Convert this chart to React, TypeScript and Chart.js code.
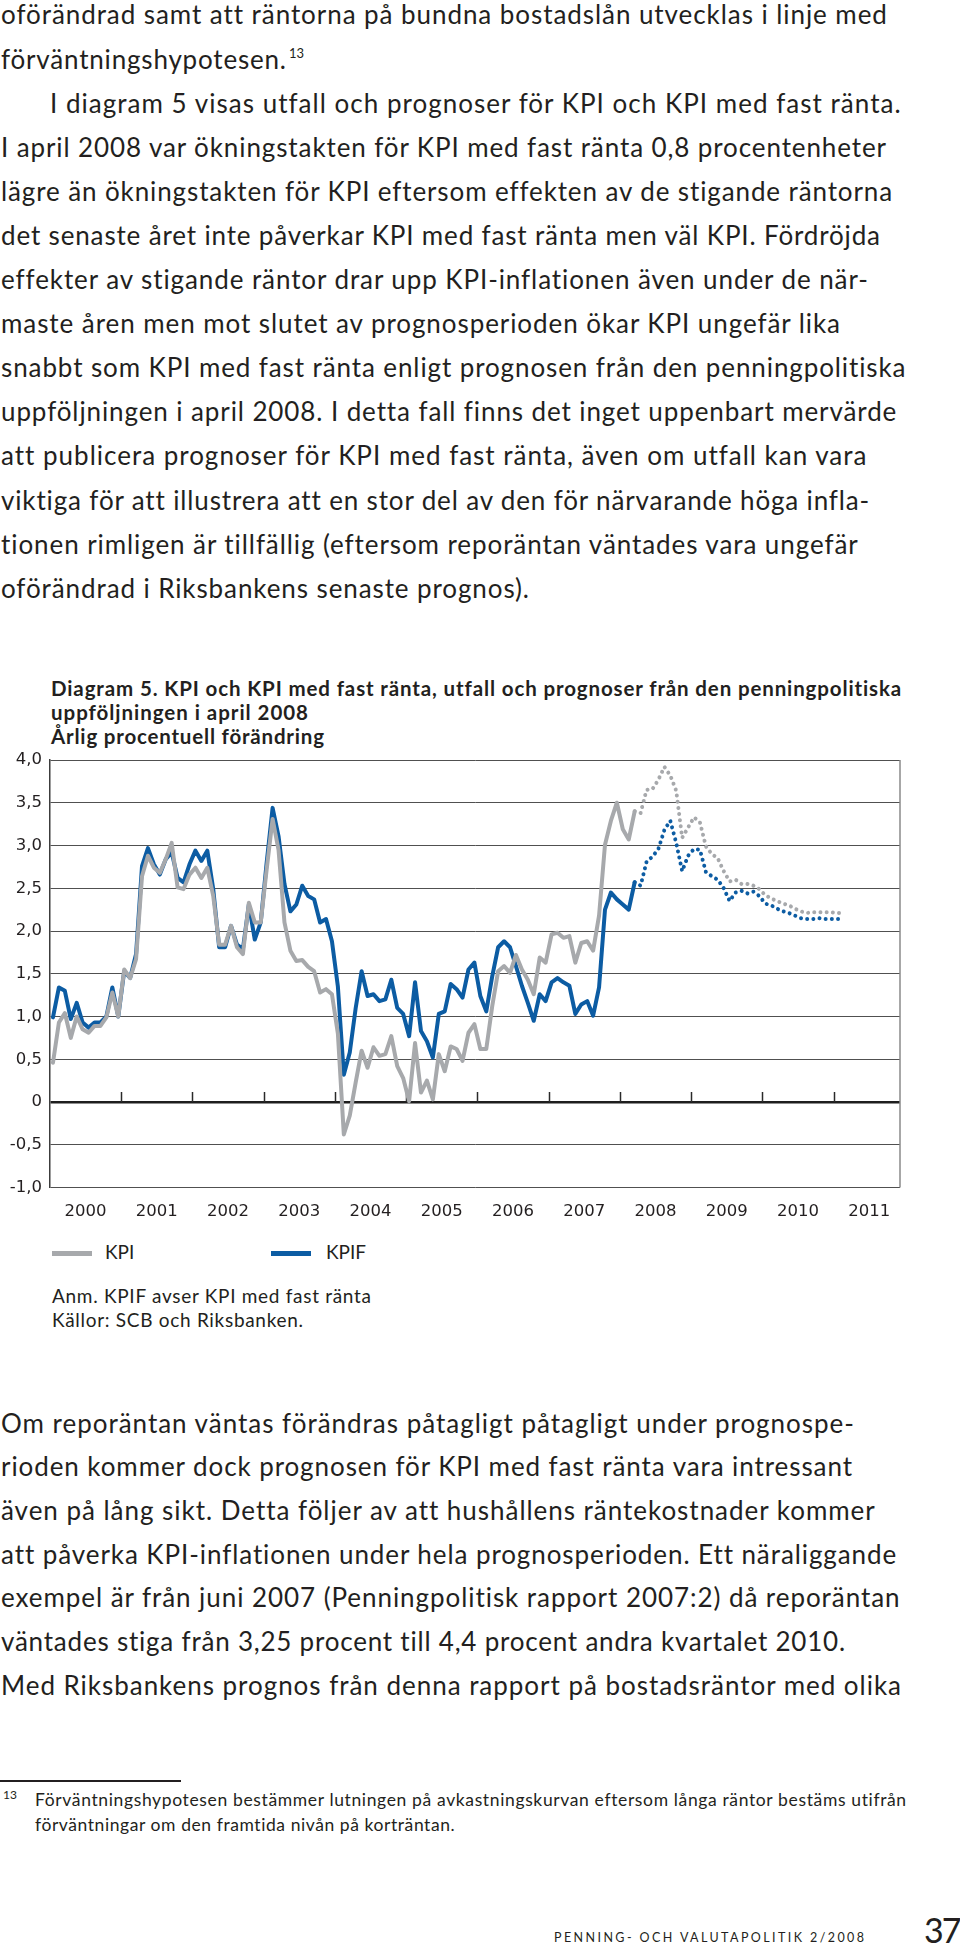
import React, { useEffect, useLayoutEffect, useRef } from 'react';
import { Chart, registerables } from 'chart.js';

Chart.register(...registerables);

// ---------- chart data ----------
const YEARS = ['2000', '2001', '2002', '2003', '2004', '2005', '2006', '2007', '2008', '2009', '2010', '2011'];
const Y_TICKS = [-1, -0.5, 0, 0.5, 1, 1.5, 2, 2.5, 3, 3.5, 4];
const Y_TICK_LABELS = ['-1,0', '-0,5', '0', '0,5', '1,0', '1,5', '2,0', '2,5', '3,0', '3,5', '4,0'];
const SERIES_NAMES = ['KPI', 'KPIF'];

// monthly outcome, Jan 2000 – Mar 2008
const KPI_OUTCOME = [
  0.46, 0.93, 1.04, 0.75, 1.0, 0.85, 0.81, 0.89, 0.89, 0.99, 1.28, 1.0,
  1.55, 1.45, 1.67, 2.64, 2.88, 2.74, 2.68, 2.84, 3.03, 2.51, 2.49, 2.66,
  2.74, 2.62, 2.74, 2.41, 1.84, 1.84, 2.06, 1.81, 1.73, 2.33, 2.1, 2.1,
  2.72, 3.31, 2.95, 2.1, 1.77, 1.65, 1.66, 1.58, 1.53, 1.28, 1.32, 1.26,
  0.8, -0.38, -0.16, 0.23, 0.6, 0.4, 0.64, 0.54, 0.56, 0.77, 0.42, 0.28,
  0.01, 0.69, 0.11, 0.25, 0.03, 0.56, 0.36, 0.65, 0.62, 0.48, 0.81, 0.91,
  0.62, 0.62, 1.12, 1.53, 1.59, 1.51, 1.72, 1.55, 1.43, 1.26, 1.69, 1.63,
  1.96, 1.98, 1.92, 1.94, 1.63, 1.86, 1.88, 1.77, 2.18, 3.01, 3.29, 3.5,
  3.19, 3.07, 3.4,
];
const KPIF_OUTCOME = [
  0.99, 1.34, 1.3, 0.97, 1.16, 0.93, 0.87, 0.93, 0.93, 1.0, 1.34, 1.0,
  1.53, 1.45, 1.73, 2.76, 2.97, 2.78, 2.66, 2.84, 2.92, 2.62, 2.57, 2.78,
  2.94, 2.82, 2.94, 2.49, 1.81, 1.81, 2.06, 1.84, 1.79, 2.31, 1.9, 2.1,
  2.8, 3.44, 3.11, 2.55, 2.23, 2.31, 2.53, 2.41, 2.37, 2.1, 2.14, 1.88,
  1.35, 0.32, 0.58, 1.1, 1.53, 1.24, 1.26, 1.18, 1.2, 1.43, 1.1, 1.03,
  0.77, 1.4, 0.83, 0.71, 0.52, 1.03, 1.06, 1.38, 1.32, 1.22, 1.55, 1.63,
  1.24, 1.06, 1.47, 1.81, 1.88, 1.81, 1.59, 1.36, 1.16, 0.95, 1.26, 1.18,
  1.4, 1.45, 1.4, 1.36, 1.03, 1.14, 1.18, 1.01, 1.34, 2.25, 2.45, 2.37,
  2.31, 2.25, 2.57,
];
// monthly forecast, Mar 2008 – Feb 2011
const FORECAST_START = 98;
const KPI_FORECAST = [
  3.4, 3.38, 3.65, 3.66, 3.77, 3.92, 3.82, 3.64, 3.09, 3.21, 3.33, 3.27,
  2.99, 2.9, 2.85, 2.7, 2.58, 2.6, 2.55, 2.55, 2.53, 2.49, 2.42, 2.38,
  2.35, 2.32, 2.3, 2.26, 2.23, 2.21, 2.22, 2.22, 2.22, 2.22, 2.21, 2.21,
];
const KPIF_FORECAST = [
  2.57, 2.53, 2.81, 2.87, 2.96, 3.18, 3.29, 3.03, 2.7, 2.88, 2.96, 2.95,
  2.69, 2.64, 2.6, 2.5, 2.35, 2.45, 2.47, 2.44, 2.46, 2.41, 2.32, 2.3,
  2.26, 2.23, 2.21, 2.18, 2.15, 2.14, 2.14, 2.15, 2.14, 2.14, 2.14, 2.14,
];

// ---------- page text ----------
const P1_LINES = [
  'oförändrad samt att räntorna på bundna bostadslån utvecklas i linje med',
  'förväntningshypotesen.',
  'I diagram 5 visas utfall och prognoser för KPI och KPI med fast ränta.',
  'I april 2008 var ökningstakten för KPI med fast ränta 0,8 procentenheter',
  'lägre än ökningstakten för KPI eftersom effekten av de stigande räntorna',
  'det senaste året inte påverkar KPI med fast ränta men väl KPI. Fördröjda',
  'effekter av stigande räntor drar upp KPI-inflationen även under de när-',
  'maste åren men mot slutet av prognosperioden ökar KPI ungefär lika',
  'snabbt som KPI med fast ränta enligt prognosen från den penningpolitiska',
  'uppföljningen i april 2008. I detta fall finns det inget uppenbart mervärde',
  'att publicera prognoser för KPI med fast ränta, även om utfall kan vara',
  'viktiga för att illustrera att en stor del av den för närvarande höga infla-',
  'tionen rimligen är tillfällig (eftersom reporäntan väntades vara ungefär',
  'oförändrad i Riksbankens senaste prognos).',
];
const P1_RIGHT = [886, 286, 900, 886, 891, 880, 868, 840, 906, 895, 865, 868, 858, 529];
const P2_LINES = [
  'Om reporäntan väntas förändras påtagligt påtagligt under prognospe-',
  'rioden kommer dock prognosen för KPI med fast ränta vara intressant',
  'även på lång sikt. Detta följer av att hushållens räntekostnader kommer',
  'att påverka KPI-inflationen under hela prognosperioden. Ett näraliggande',
  'exempel är från juni 2007 (Penningpolitisk rapport 2007:2) då reporäntan',
  'väntades stiga från 3,25 procent till 4,4 procent andra kvartalet 2010.',
  'Med Riksbankens prognos från denna rapport på bostadsräntor med olika',
];
const P2_RIGHT = [854, 852, 873, 895, 900, 846, 901];
const TITLE_LINES = [
  'Diagram 5. KPI och KPI med fast ränta, utfall och prognoser från den penningpolitiska',
  'uppföljningen i april 2008',
  'Årlig procentuell förändring',
];
const TITLE_RIGHT = [901, 308, 324];
const NOTE_LINES = ['Anm. KPIF avser KPI med fast ränta', 'Källor: SCB och Riksbanken.'];
const NOTE_RIGHT = [371, 303];
const FOOTNOTE_LINES = [
  'Förväntningshypotesen bestämmer lutningen på avkastningskurvan eftersom långa räntor bestäms utifrån',
  'förväntningar om den framtida nivån på korträntan.',
];
const FOOTNOTE_RIGHT = [906, 455];

const INK = '#231f20';
const GREY = '#a7a9ac';
const BLUE = '#0c5ca3';
const ASC: Record<string, number> = { Lato: 0.987, 'DejaVu Sans': 0.946 };

type LineProps = {
  text: string;
  left: number;
  right?: number | null;
  baseline: number;
  size: number;
  weight?: number;
  family?: string;
  color?: string;
  spacing?: number;
};

function TextLine({ text, left, right = null, baseline, size, weight = 400, family = 'Lato', color = INK, spacing = 0 }: LineProps) {
  const ref = useRef<HTMLDivElement | null>(null);
  useLayoutEffect(() => {
    const el = ref.current;
    if (!el || right == null) return;
    let alive = true;
    const fit = () => {
      if (!alive) return;
      el.style.letterSpacing = '0px';
      const w = el.getBoundingClientRect().width;
      const n = Array.from(text).length;
      el.style.letterSpacing = `${(right - left - w) / Math.max(n - 1, 1)}px`;
    };
    fit();
    const fonts = (document as any).fonts;
    if (fonts && fonts.ready) fonts.ready.then(fit);
    return () => {
      alive = false;
    };
  }, [text, left, right, size]);
  return (
    <div
      ref={ref}
      style={{
        position: 'absolute',
        left,
        top: baseline - (ASC[family] ?? 0.95) * size,
        fontFamily: `"${family}", sans-serif`,
        fontSize: size,
        fontWeight: weight,
        lineHeight: 1.2,
        whiteSpace: 'pre',
        color,
        letterSpacing: spacing,
      }}
    >
      {text}
    </div>
  );
}

const pts = (vals: number[], start: number) => vals.map((v, i) => ({ x: start + i, y: v }));
const YEAR_CENTRES = YEARS.map((_, i) => 12 * i + 5.5);
const YEAR_BOUNDS = YEARS.slice(1).map((_, i) => 12 * (i + 1) - 0.5);

const framePlugin = {
  id: 'frame',
  beforeDatasetsDraw(chart: any) {
    const { ctx, chartArea, scales } = chart;
    const y0 = scales.y.getPixelForValue(0);
    ctx.save();
    ctx.strokeStyle = '#2a2a2a';
    ctx.lineWidth = 1.5;
    YEAR_BOUNDS.forEach((m) => {
      const px = Math.round(scales.x.getPixelForValue(m)) + 0.5;
      ctx.beginPath();
      ctx.moveTo(px, y0);
      ctx.lineTo(px, y0 - 10);
      ctx.stroke();
    });
    ctx.strokeStyle = '#8a8a8a';
    ctx.lineWidth = 1.5;
    ctx.beginPath();
    ctx.moveTo(chartArea.right, chartArea.top);
    ctx.lineTo(chartArea.right, chartArea.bottom);
    ctx.stroke();
    ctx.restore();
  },
};

function InflationChart() {
  const ref = useRef<HTMLCanvasElement | null>(null);
  useEffect(() => {
    const canvas = ref.current;
    if (!canvas) return;
    const tickFont = { family: '"DejaVu Sans", sans-serif', size: 16.5 };
    const line = (label: string, data: any[], color: string, dotted: boolean) => ({
      label,
      data,
      borderColor: color,
      backgroundColor: color,
      borderWidth: 4,
      pointRadius: 0,
      tension: 0,
      fill: false,
      borderJoinStyle: 'round' as const,
      borderCapStyle: 'round' as const,
      borderDash: dotted ? [0.001, 6.2] : [],
    });
    const chart = new Chart(canvas, {
      type: 'line',
      data: {
        datasets: [
          line(SERIES_NAMES[0], pts(KPI_OUTCOME, 0), GREY, false),
          line(SERIES_NAMES[0] + ' prognos', pts(KPI_FORECAST, FORECAST_START), GREY, true),
          line(SERIES_NAMES[1], pts(KPIF_OUTCOME, 0), BLUE, false),
          line(SERIES_NAMES[1] + ' prognos', pts(KPIF_FORECAST, FORECAST_START), BLUE, true),
        ],
      },
      options: {
        animation: false,
        responsive: false,
        layout: { padding: { top: 20, right: 60, bottom: 0, left: 0 } },
        plugins: { legend: { display: false }, tooltip: { enabled: false } },
        scales: {
          x: {
            type: 'linear',
            min: -0.5,
            max: 142.7,
            grid: { display: false, drawTicks: false },
            border: { display: false },
            afterBuildTicks: (s: any) => {
              s.ticks = YEAR_CENTRES.map((v) => ({ value: v }));
            },
            afterFit: (s: any) => {
              s.height = 42.5;
            },
            ticks: {
              autoSkip: false,
              maxRotation: 0,
              padding: 14,
              color: INK,
              font: tickFont,
              callback: (_v: any, i: number) => YEARS[i],
            },
          },
          y: {
            min: -1,
            max: 4,
            afterBuildTicks: (s: any) => {
              s.ticks = Y_TICKS.map((v) => ({ value: v }));
            },
            afterFit: (s: any) => {
              s.width = 50;
            },
            grid: {
              drawTicks: false,
              color: (c: any) => (c.tick && c.tick.value === 0 ? '#1e1e1e' : '#505050'),
              lineWidth: (c: any) => (c.tick && c.tick.value === 0 ? 2.5 : 1),
            },
            border: { display: true, color: '#3c3c3c', width: 1.5 },
            ticks: {
              padding: 8,
              color: INK,
              font: tickFont,
              callback: (_v: any, i: number) => Y_TICK_LABELS[i],
            },
          },
        },
      } as any,
      plugins: [framePlugin],
    });
    return () => chart.destroy();
  }, []);
  return (
    <canvas
      ref={ref}
      width={960}
      height={490}
      style={{ position: 'absolute', left: 0, top: 740, width: 960, height: 490 }}
    />
  );
}

export default function App() {
  const body = 26;
  return (
    <div
      style={{
        position: 'absolute',
        left: 0,
        top: 0,
        width: 960,
        height: 1944,
        overflow: 'hidden',
        background: '#fff',
        color: INK,
      }}
    >
      {P1_LINES.map((t, i) => (
        <TextLine key={'p1' + i} text={t} left={i === 2 ? 50 : 1} right={P1_RIGHT[i]} baseline={25.1 + 44.1 * i} size={body} />
      ))}
      <div
        style={{
          position: 'absolute',
          left: 289,
          top: 59 - 0.987 * 13,
          fontFamily: 'Lato, sans-serif',
          fontSize: 13,
          lineHeight: 1.2,
          whiteSpace: 'pre',
        }}
      >
        13
      </div>

      {TITLE_LINES.map((t, i) => (
        <TextLine key={'t' + i} text={t} left={51} right={TITLE_RIGHT[i]} baseline={696.7 + 24 * i} size={20.5} weight={700} />
      ))}

      <InflationChart />

      {SERIES_NAMES.map((name, i) => (
        <React.Fragment key={name}>
          <div
            style={{
              position: 'absolute',
              left: i === 0 ? 52 : 271,
              top: 1251,
              width: 40,
              height: 5,
              background: i === 0 ? GREY : BLUE,
            }}
          />
          <TextLine text={name} left={i === 0 ? 105 : 326} baseline={1259.5} size={19} />
        </React.Fragment>
      ))}

      {NOTE_LINES.map((t, i) => (
        <TextLine key={'n' + i} text={t} left={52} right={NOTE_RIGHT[i]} baseline={1304 + 24 * i} size={19} />
      ))}

      {P2_LINES.map((t, i) => (
        <TextLine key={'p2' + i} text={t} left={1} right={P2_RIGHT[i]} baseline={1433.3 + 43.7 * i} size={body} />
      ))}

      <div style={{ position: 'absolute', left: 0, top: 1780, width: 181, height: 2, background: INK }} />
      <div
        style={{
          position: 'absolute',
          left: 3,
          top: 1800 - 0.987 * 12,
          fontFamily: 'Lato, sans-serif',
          fontSize: 12,
          lineHeight: 1.2,
        }}
      >
        13
      </div>
      {FOOTNOTE_LINES.map((t, i) => (
        <TextLine key={'f' + i} text={t} left={35} right={FOOTNOTE_RIGHT[i]} baseline={1806 + 25 * i} size={17.5} />
      ))}

      <TextLine text="PENNING- OCH VALUTAPOLITIK 2/2008" left={554} right={864} baseline={1942} size={12.5} />
      <TextLine text="37" left={924} baseline={1944} size={34} spacing={-2} />
    </div>
  );
}
